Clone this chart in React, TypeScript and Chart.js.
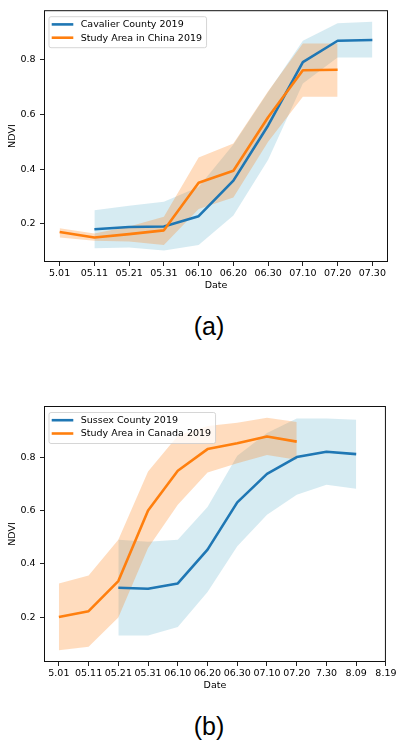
import React, { useEffect, useRef } from "react";
import { Chart, registerables } from "chart.js";

Chart.register(...registerables);

// ---- Panel (a): Cavalier County vs. study area in China, 2019 ----
const datesA = ["5.01", "05.11", "05.21", "05.31", "06.10", "06.20", "06.30", "07.10", "07.20", "07.30"];
const cavalierMean = [null, 0.18, 0.188, 0.19, 0.228, 0.358, 0.56, 0.792, 0.87, 0.873];
const cavalierUpper = [null, 0.25, 0.266, 0.281, 0.335, 0.49, 0.682, 0.87, 0.934, 0.94];
const cavalierLower = [null, 0.11, 0.113, 0.102, 0.122, 0.23, 0.434, 0.714, 0.809, 0.809];
const chinaMean = [0.17, 0.15, 0.162, 0.176, 0.35, 0.394, 0.59, 0.762, 0.764];
const chinaUpper = [0.184, 0.164, 0.19, 0.226, 0.443, 0.494, 0.685, 0.86, 0.86];
const chinaLower = [0.15, 0.138, 0.135, 0.122, 0.254, 0.296, 0.5, 0.665, 0.665];

// ---- Panel (b): Sussex County vs. study area in Canada, 2019 ----
const datesB = ["5.01", "05.11", "05.21", "05.31", "06.10", "06.20", "06.30", "07.10", "07.20", "7.30", "8.09", "8.19"];
const sussexMean = [null, null, 0.31, 0.306, 0.326, 0.453, 0.63, 0.737, 0.8, 0.82, 0.811];
const sussexUpper = [null, null, 0.49, 0.482, 0.49, 0.613, 0.805, 0.89, 0.945, 0.945, 0.94];
const sussexLower = [null, null, 0.131, 0.131, 0.163, 0.294, 0.466, 0.584, 0.659, 0.696, 0.681];
const canadaMean = [0.2, 0.222, 0.335, 0.6, 0.749, 0.83, 0.852, 0.877, 0.858];
const canadaUpper = [0.326, 0.356, 0.49, 0.746, 0.88, 0.917, 0.929, 0.948, 0.932];
const canadaLower = [0.075, 0.089, 0.198, 0.459, 0.621, 0.742, 0.777, 0.808, 0.79];

const yTicks = [0.2, 0.4, 0.6, 0.8];

const BLUE = "#1f77b4";
const ORANGE = "#ff7f0e";
const BLUE_BAND = "rgba(173,216,230,0.5)";
const ORANGE_BAND = "rgba(255,127,14,0.27)";
const FONT = "'DejaVu Sans', sans-serif";
const FONT_SIZE = 9.5;

type Val = number | null;

const toPoints = (values: Val[]) =>
  values
    .map((v, i) => (v == null ? null : { x: i, y: v }))
    .filter((p) => p !== null) as { x: number; y: number }[];

// matplotlib-style autoscale: 5% margin around all plotted values
function yLimits(groups: Val[][]) {
  const all = groups.flat().filter((v) => v != null) as number[];
  const lo = Math.min(...all);
  const hi = Math.max(...all);
  const m = (hi - lo) * 0.05;
  return { min: lo - m, max: hi + m };
}

type SeriesSpec = {
  label: string;
  color: string;
  band: string;
  mean: Val[];
  upper: Val[];
  lower: Val[];
};

// Frame around the plotting area plus an in-axes legend box
const framePlugin = {
  id: "frameAndLegend",
  afterDatasetsDraw(chart: any, _args: any, opts: any) {
    const { ctx, chartArea: a } = chart;
    ctx.save();
    ctx.strokeStyle = "#111";
    ctx.lineWidth = 1;
    ctx.strokeRect(a.left + 0.5, a.top + 0.5, a.right - a.left - 1, a.bottom - a.top - 1);

    const entries: { label: string; color: string }[] = opts.entries || [];
    ctx.font = `${FONT_SIZE}px ${FONT}`;
    const textW = Math.max(...entries.map((e) => ctx.measureText(e.label).width));
    const bx = a.left + 5;
    const by = a.top + 6.5;
    const textX = 31.7;
    const bw = textX + textW + 4.5;
    const bh = 31;
    const r = 2;
    ctx.beginPath();
    ctx.moveTo(bx + r, by);
    ctx.lineTo(bx + bw - r, by);
    ctx.arcTo(bx + bw, by, bx + bw, by + r, r);
    ctx.lineTo(bx + bw, by + bh - r);
    ctx.arcTo(bx + bw, by + bh, bx + bw - r, by + bh, r);
    ctx.lineTo(bx + r, by + bh);
    ctx.arcTo(bx, by + bh, bx, by + bh - r, r);
    ctx.lineTo(bx, by + r);
    ctx.arcTo(bx, by, bx + r, by, r);
    ctx.closePath();
    ctx.fillStyle = "rgba(255,255,255,0.8)";
    ctx.fill();
    ctx.strokeStyle = "rgba(204,204,204,0.8)";
    ctx.lineWidth = 1;
    ctx.stroke();

    entries.forEach((e, i) => {
      const cy = by + 7.7 + i * 13.3;
      ctx.strokeStyle = e.color;
      ctx.lineWidth = 2.6;
      ctx.beginPath();
      ctx.moveTo(bx + 2.7, cy);
      ctx.lineTo(bx + 24.3, cy);
      ctx.stroke();
      ctx.fillStyle = "#000";
      ctx.textBaseline = "middle";
      ctx.textAlign = "left";
      ctx.fillText(e.label, bx + textX, cy + 0.5);
    });
    ctx.restore();
  },
};

function makeConfig(
  dates: string[],
  first: SeriesSpec,
  second: SeriesSpec,
  xMin: number,
  xMax: number,
  padTop: number
) {
  const lim = yLimits([first.upper, first.lower, second.upper, second.lower]);
  const band = (s: SeriesSpec, order: number) => [
    {
      label: s.label + " lower",
      data: toPoints(s.lower),
      borderWidth: 0,
      pointRadius: 0,
      fill: false,
      order: order + 1,
    },
    {
      label: s.label + " upper",
      data: toPoints(s.upper),
      borderWidth: 0,
      pointRadius: 0,
      backgroundColor: s.band,
      fill: "-1",
      order,
    },
  ];
  const line = (s: SeriesSpec, order: number) => ({
    label: s.label,
    data: toPoints(s.mean),
    borderColor: s.color,
    borderWidth: 2.6,
    pointRadius: 0,
    fill: false,
    order,
  });
  const tickFont = { family: FONT, size: FONT_SIZE };
  return {
    type: "line",
    data: {
      datasets: [...band(first, 4), ...band(second, 2), line(first, 1), line(second, 0)],
    },
    options: {
      animation: false,
      responsive: false,
      devicePixelRatio: 1,
      layout: { padding: { left: 0, right: 10, top: padTop, bottom: 0 } },
      plugins: {
        legend: { display: false },
        tooltip: { enabled: false },
        frameAndLegend: {
          entries: [
            { label: first.label, color: first.color },
            { label: second.label, color: second.color },
          ],
        },
      },
      elements: { line: { tension: 0, borderJoinStyle: "round", borderCapStyle: "butt" } },
      scales: {
        x: {
          type: "linear",
          min: xMin,
          max: xMax,
          border: { display: false },
          grid: { drawOnChartArea: false, drawTicks: true, tickLength: 4, color: "#222", lineWidth: 1 },
          ticks: {
            color: "#000",
            font: tickFont,
            padding: 1.5,
            maxRotation: 0,
            autoSkip: false,
            callback: (v: number) => dates[Math.round(v)] ?? "",
          },
          afterBuildTicks: (scale: any) => {
            scale.ticks = dates.map((_, i) => ({ value: i }));
          },
          afterFit: (scale: any) => {
            scale.height = 38;
          },
          title: {
            display: true,
            text: "Date",
            color: "#000",
            font: tickFont,
            padding: { top: 0, bottom: 8.3 },
          },
        },
        y: {
          type: "linear",
          min: lim.min,
          max: lim.max,
          border: { display: false },
          grid: { drawOnChartArea: false, drawTicks: true, tickLength: 4, color: "#222", lineWidth: 1 },
          ticks: {
            color: "#000",
            font: tickFont,
            padding: 4.5,
            callback: (v: number) => v.toFixed(1),
          },
          afterBuildTicks: (scale: any) => {
            scale.ticks = yTicks.map((v) => ({ value: v }));
          },
          afterFit: (scale: any) => {
            scale.width = 44;
          },
          title: {
            display: true,
            text: "NDVI",
            color: "#000",
            font: tickFont,
            padding: { top: 7.3, bottom: 0 },
          },
        },
      },
    },
    plugins: [framePlugin],
  };
}

function Panel(props: { config: any; top: number; height: number }) {
  const ref = useRef<HTMLCanvasElement>(null);
  useEffect(() => {
    if (!ref.current) return;
    const chart = new Chart(ref.current, props.config);
    return () => chart.destroy();
  }, []);
  return (
    <canvas
      ref={ref}
      width={398}
      height={props.height}
      style={{ position: "absolute", left: 0, top: props.top, width: 398, height: props.height }}
    />
  );
}

const captionStyle: React.CSSProperties = {
  position: "absolute",
  left: 0,
  width: 418,
  textAlign: "center",
  fontFamily: "'Liberation Sans', Arial, sans-serif",
  fontSize: 25,
  lineHeight: "30px",
  color: "#000",
};

export default function App() {
  const configA = makeConfig(
    datesA,
    { label: "Cavalier County 2019", color: BLUE, band: BLUE_BAND, mean: cavalierMean, upper: cavalierUpper, lower: cavalierLower },
    { label: "Study Area in China 2019", color: ORANGE, band: ORANGE_BAND, mean: chinaMean, upper: chinaUpper, lower: chinaLower },
    -0.45,
    datesA.length - 1 + 0.45,
    6
  );
  const configB = makeConfig(
    datesB,
    { label: "Sussex County 2019", color: BLUE, band: BLUE_BAND, mean: sussexMean, upper: sussexUpper, lower: sussexLower },
    { label: "Study Area in Canada 2019", color: ORANGE, band: ORANGE_BAND, mean: canadaMean, upper: canadaUpper, lower: canadaLower },
    -0.5,
    datesB.length - 1,
    16
  );
  return (
    <div style={{ position: "absolute", left: 0, top: 0, width: 398, height: 741, background: "#fff", overflow: "hidden" }}>
      <Panel config={configA} top={0} height={300} />
      <div style={{ ...captionStyle, top: 311 }}>(a)</div>
      <Panel config={configB} top={390} height={310} />
      <div style={{ ...captionStyle, top: 711 }}>(b)</div>
    </div>
  );
}
